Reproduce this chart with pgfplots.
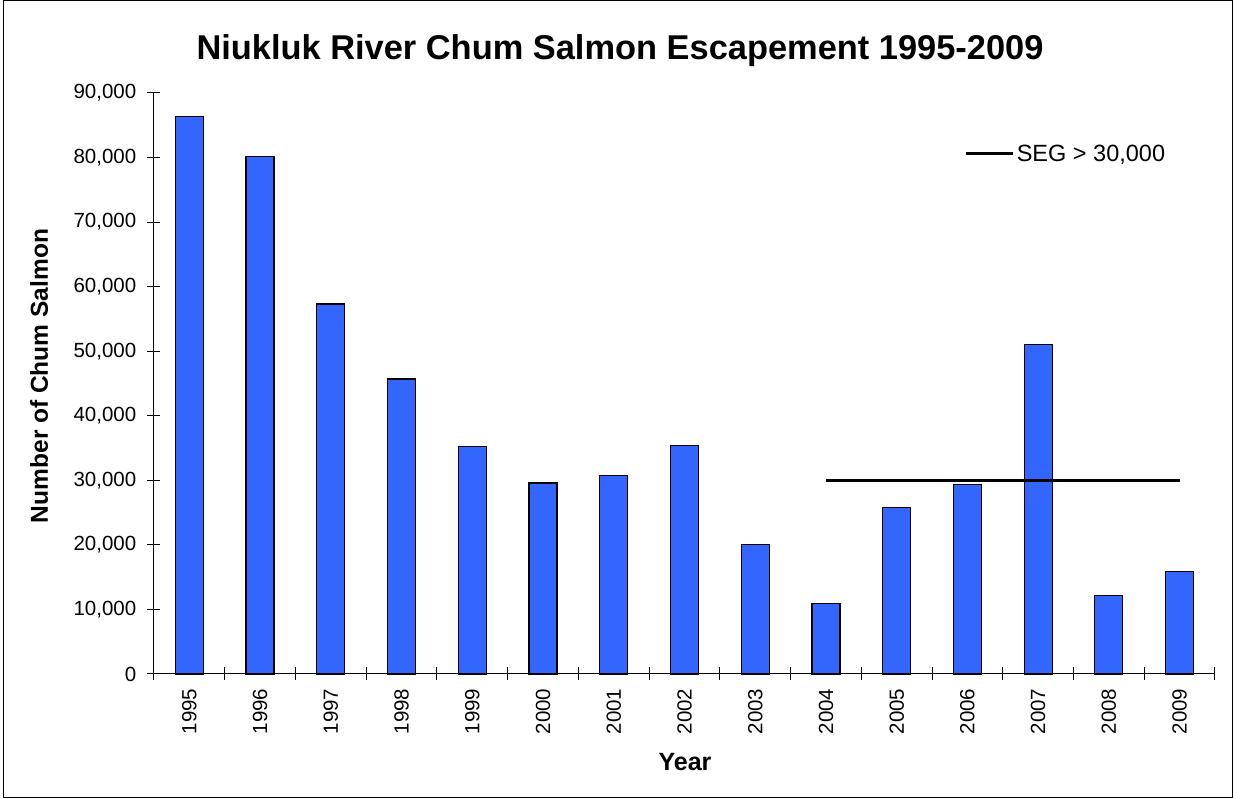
\documentclass[border=0pt]{standalone}
\usepackage{pgfplots}
\pgfplotsset{compat=1.18}
\usepackage{fontspec}
\setmainfont{Liberation Sans}
\definecolor{barblue}{RGB}{51,102,255}
\begin{document}
\begin{tikzpicture}[x=1pt,y=1pt]
\path (-154,-125) rectangle (1079,674);
\draw[line width=1pt,black] (-150,673) rectangle (1078,-124);
\begin{axis}[
  scale only axis,
  width=1061pt, height=581pt,
  xmin=-0.5, xmax=14.5,
  ymin=0, ymax=90000,
  clip=false,
  axis x line*=bottom,
  axis y line*=left,
  axis line style={-,black,line width=1pt},
  tick align=center,
  major tick length=13pt,
  minor tick length=13pt,
  tick style={black,line width=1pt},
  xtick={0,...,14},
  xticklabels={1995,1996,1997,1998,1999,2000,2001,2002,2003,2004,2005,2006,2007,2008,2009},
  major x tick style={draw=none},
  minor xtick={-0.5,0.5,...,14.5},
  ytick={0,10000,...,90000},
  scaled y ticks=false,
  /pgf/number format/.cd,1000 sep={,},assume math mode=true,/pgfplots/.cd,
  ticklabel style={font=\fontsize{20.5}{24}\selectfont},
  xticklabel style={rotate=90,anchor=east,inner xsep=0pt,inner ysep=0pt,xshift=-8pt},
  yticklabel style={inner xsep=0pt,xshift=-11pt},
  legend style={at={(axis description cs:0.764,0.895)},anchor=west,draw=none,fill=none,inner sep=0pt,
    font=\fontsize{23.5}{28}\selectfont},
  legend image code/.code={\draw[line width=3pt,black] (0pt,0pt) -- (47pt,0pt);},
]
\addplot[ybar,bar width=28pt,fill=barblue,draw=black,line width=1.2pt,forget plot] coordinates {
(0,86300) (1,80200) (2,57300) (3,45700) (4,35300) (5,29600) (6,30800) (7,35400)
(8,20000) (9,10900) (10,25800) (11,29300) (12,51000) (13,12100) (14,15900)};
\addplot[black,line width=3pt,mark=none] coordinates {(9,30000) (14,30000)};
\addlegendentry{SEG > 30,000}
\end{axis}
\node[anchor=base,font=\bfseries\fontsize{34.4}{40}\selectfont] at (466,614) {Niukluk River Chum Salmon Escapement 1995-2009};
\node[anchor=base,rotate=90,font=\bfseries\fontsize{24.5}{29}\selectfont] at (-106,298) {Number of Chum Salmon};
\node[anchor=base,font=\bfseries\fontsize{25}{30}\selectfont] at (531,-97) {Year};
\end{tikzpicture}
\end{document}
